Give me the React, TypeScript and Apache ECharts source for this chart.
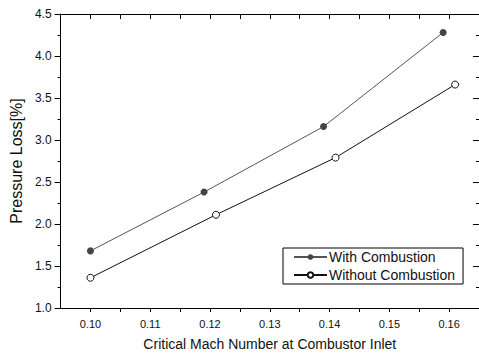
import React, { useEffect, useRef } from "react";
import * as echarts from "echarts";

const withX = [0.1, 0.119, 0.139, 0.159];
const withY = [1.68, 2.38, 3.16, 4.28];
const withoutX = [0.1, 0.121, 0.141, 0.161];
const withoutY = [1.36, 2.11, 2.79, 3.66];
const xTickValues = [0.1, 0.105, 0.11, 0.115, 0.12, 0.125, 0.13, 0.135, 0.14, 0.145, 0.15, 0.155, 0.16];
const xLabelValues = [0.1, 0.11, 0.12, 0.13, 0.14, 0.15, 0.16];
const seriesNames = ["With Combustion", "Without Combustion"];
const xTitle = "Critical Mach Number at Combustor Inlet";
const yTitle = "Pressure Loss[%]";

const FONT = "Liberation Sans, Arial, sans-serif";

export default function App() {
  const ref = useRef<HTMLDivElement>(null);
  useEffect(() => {
    if (!ref.current) return;
    const chart = echarts.init(ref.current, null, { renderer: "svg" });
    const axisLine = { show: true, lineStyle: { color: "#000", width: 1 } };
    chart.setOption({
      animation: false,
      backgroundColor: "#fff",
      textStyle: { fontFamily: FONT },
      grid: { left: 56, top: 14, width: 425, height: 294, containLabel: false },
      legend: {
        left: 283,
        top: 248,
        orient: "vertical",
        backgroundColor: "#fff",
        borderColor: "#000",
        borderWidth: 1,
        borderRadius: 0,
        padding: [2, 8, 2, 10],
        itemWidth: 33,
        itemHeight: 7,
        itemGap: 4,
        textStyle: { fontFamily: FONT, fontSize: 14, color: "#111", padding: [0, 0, 0, -3] },
        data: seriesNames,
      },
      xAxis: [
        {
          type: "value",
          min: 0.095,
          max: 0.165,
          position: "bottom",
          name: xTitle,
          nameLocation: "middle",
          nameGap: 29,
          nameTextStyle: { fontFamily: FONT, fontSize: 14, color: "#111" },
          axisLine,
          splitLine: { show: false },
          axisTick: { show: true, inside: false, length: 4, customValues: xTickValues, lineStyle: { color: "#000" } },
          axisLabel: {
            customValues: xLabelValues,
            margin: 10,
            fontFamily: FONT,
            fontSize: 11,
            color: "#111",
            formatter: (v: number) => v.toFixed(2),
          },
        },
        {
          type: "value",
          min: 0.095,
          max: 0.165,
          position: "top",
          axisLine,
          splitLine: { show: false },
          axisTick: { show: true, inside: true, length: 5, customValues: xTickValues, lineStyle: { color: "#000" } },
          axisLabel: { show: false },
        },
      ],
      yAxis: [
        {
          type: "value",
          min: 1.0,
          max: 4.5,
          interval: 0.5,
          position: "left",
          name: yTitle,
          nameLocation: "middle",
          nameGap: 31,
          nameTextStyle: { fontFamily: FONT, fontSize: 16, color: "#111" },
          axisLine,
          splitLine: { show: false },
          axisTick: { show: true, inside: false, length: 6, lineStyle: { color: "#000" } },
          minorTick: { show: true, splitNumber: 2, length: 3, lineStyle: { color: "#000" } },
          axisLabel: {
            margin: 9,
            fontFamily: FONT,
            fontSize: 12,
            color: "#111",
            formatter: (v: number) => v.toFixed(1),
          },
        },
        {
          type: "value",
          min: 1.0,
          max: 4.5,
          interval: 0.5,
          position: "right",
          axisLine,
          splitLine: { show: false },
          axisTick: { show: true, inside: true, length: 6, lineStyle: { color: "#000" } },
          minorTick: { show: true, splitNumber: 2, length: 3, lineStyle: { color: "#000" } },
          axisLabel: { show: false },
        },
      ],
      series: [
        {
          name: seriesNames[0],
          type: "line",
          xAxisIndex: 0,
          yAxisIndex: 0,
          data: withX.map((x, i) => [x, withY[i]]),
          symbol: "circle",
          symbolSize: 7,
          lineStyle: { color: "#555", width: 1 },
          itemStyle: { color: "#444", borderColor: "#444", borderWidth: 0 },
        },
        {
          name: seriesNames[1],
          type: "line",
          xAxisIndex: 0,
          yAxisIndex: 0,
          data: withoutX.map((x, i) => [x, withoutY[i]]),
          symbol: "circle",
          symbolSize: 7,
          lineStyle: { color: "#111", width: 1 },
          itemStyle: { color: "#fff", borderColor: "#111", borderWidth: 1 },
        },
      ],
    });
    return () => chart.dispose();
  }, []);
  return <div ref={ref} style={{ width: 479, height: 356, position: "absolute", left: 0, top: 0 }} />;
}
